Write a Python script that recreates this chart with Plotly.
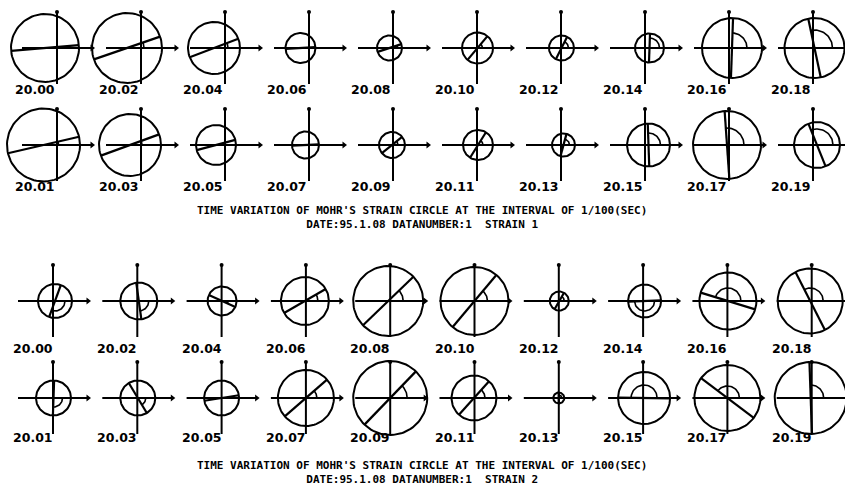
import numpy as np
import plotly.graph_objects as go

# time stamps of each Mohr circle (20.00 ... 20.19 sec)
TIMES = ["20.00", "20.01", "20.02", "20.03", "20.04", "20.05", "20.06", "20.07", "20.08", "20.09",
         "20.10", "20.11", "20.12", "20.13", "20.14", "20.15", "20.16", "20.17", "20.18", "20.19"]

# strain 1: centre offset from origin, radius, angle of diameter (deg), angle-arc radius
S1_CENTER = [-12, -13.5, -14, -11, -11, -9, -8.5, -3.5, -3.5, -1,
             0.5, 1, 0.5, 2.5, 4.5, 3.5, 3, -2, 1.5, 4]
S1_RADIUS = [34, 36.5, 35, 31, 26, 20, 15, 13.5, 12.5, 13,
             15.5, 15, 12.5, 11.5, 14.5, 21.5, 30, 34, 30, 23]
S1_ANGLE = [5, 13, 19, 20, 21, 15, 3, 3, 18, 39,
            50, 58, 63, 75, 88, 92, 88, 94, 102, 112]
S1_ARC = [8, 15, 17, 12, 14, 8, 8, 7, 8, 6,
          5, 5, 7, 6, 10, 12, 15, 17, 18, 16]

# strain 2
S2_CENTER = [2, 0.5, 1.5, 0.5, 0.5, 0, -1, 0, -2, 0,
             0, -0.5, 0.5, 0, 1.5, 1, 0.5, 0, -1.5, -1]
S2_RADIUS = [17, 17.5, 18.5, 17.5, 14.5, 17.5, 24, 28, 35, 37,
             34, 22.5, 9.5, 5.5, 16.5, 26, 28.5, 33, 32.5, 36]
S2_ANGLE = [-110, -92, -82, -59, -24, 9, 30, 41, 44, 46,
            50, 48, 60, 90, -178, 179, 163, 143, 117, 92]
S2_ARC = [10, 9, 10, 8, 6, 6, 13, 11, 15, 17,
          13, 11, 5, 3, 10, 13, 13, 12, 13, 13]

TITLE = "TIME VARIATION OF MOHR'S STRAIN CIRCLE AT THE INTERVAL OF 1/100(SEC)"
SUBTITLES = ["DATE:95.1.08 DATANUMBER:1  STRAIN 1", "DATE:95.1.08 DATANUMBER:1  STRAIN 2"]

W, H = 845, 491
HALF_X, HALF_Y = 35, 36

blocks = [
    dict(center=S1_CENTER, radius=S1_RADIUS, angle=S1_ANGLE, arc=S1_ARC,
         x0=57, step=84, rows=(48, 145), label_rows=(89, 186), label_dx=-22,
         title_y=217, sub=SUBTITLES[0]),
    dict(center=S2_CENTER, radius=S2_RADIUS, angle=S2_ANGLE, arc=S2_ARC,
         x0=53, step=84.3, rows=(301, 398), label_rows=(348, 437), label_dx=-20,
         title_y=472, sub=SUBTITLES[1]),
]

axis_x, axis_y = [], []
circ_x, circ_y = [], []
diam_x, diam_y = [], []
arc_x, arc_y = [], []
tip_x, tip_y, top_x, top_y = [], [], [], []
annotations = []

for b in blocks:
    for i, t in enumerate(TIMES):
        col, row = i // 2, i % 2
        ox = b["x0"] + col * b["step"]
        oy = b["rows"][row]
        # axes
        axis_x += [ox - HALF_X, ox + HALF_X, None, ox, ox, None]
        axis_y += [oy, oy, None, oy - HALF_Y, oy + HALF_Y, None]
        tip_x.append(ox + HALF_X)
        tip_y.append(oy)
        top_x.append(ox)
        top_y.append(oy - HALF_Y)
        # circle
        cx = ox + b["center"][i]
        r = b["radius"][i]
        th = np.linspace(0, 2 * np.pi, 90)
        circ_x += list(cx + r * np.cos(th)) + [None]
        circ_y += list(oy - r * np.sin(th)) + [None]
        # diameter
        a = np.radians(b["angle"][i])
        diam_x += [cx - r * np.cos(a), cx + r * np.cos(a), None]
        diam_y += [oy + r * np.sin(a), oy - r * np.sin(a), None]
        # angle arc
        ra = b["arc"][i]
        ta = np.linspace(0, a, 30)
        arc_x += list(cx + ra * np.cos(ta)) + [None]
        arc_y += list(oy - ra * np.sin(ta)) + [None]
        annotations.append(dict(x=ox + b["label_dx"], y=b["label_rows"][row], text=t,
                                showarrow=False, xanchor="center", yanchor="middle",
                                font=dict(family="DejaVu Sans", size=12.5, color="black", weight="bold")))
    # two-line caption under each block
    annotations.append(dict(x=422, y=b["title_y"], text=TITLE + "<br>" + b["sub"], showarrow=False,
                            xanchor="center", yanchor="middle", align="center",
                            font=dict(family="DejaVu Sans Mono", size=11, color="black",
                                      weight="bold")))

fig = go.Figure()
line = dict(color="black", width=2)
fig.add_trace(go.Scatter(x=axis_x, y=axis_y, mode="lines", line=line))
fig.add_trace(go.Scatter(x=circ_x, y=circ_y, mode="lines", line=line))
fig.add_trace(go.Scatter(x=diam_x, y=diam_y, mode="lines", line=dict(color="black", width=2.2)))
fig.add_trace(go.Scatter(x=arc_x, y=arc_y, mode="lines", line=dict(color="black", width=1.6)))
fig.add_trace(go.Scatter(x=tip_x, y=tip_y, mode="markers",
                         marker=dict(symbol="triangle-right", size=6, color="black")))
fig.add_trace(go.Scatter(x=top_x, y=top_y, mode="markers",
                         marker=dict(symbol="circle", size=4, color="black")))

fig.update_xaxes(range=[0, W], visible=False)
fig.update_yaxes(range=[H, 0], visible=False)
fig.update_layout(
    width=W, height=H,
    margin=dict(l=0, r=0, t=0, b=0),
    paper_bgcolor="white", plot_bgcolor="white",
    showlegend=False,
    hovermode=False,
    annotations=annotations,
)

# page body has a default 8px margin; drop it so the figure sits at the window corner
fig.write_html("out.html", config={"displayModeBar": False},
               post_script="document.body.style.margin='0';")
